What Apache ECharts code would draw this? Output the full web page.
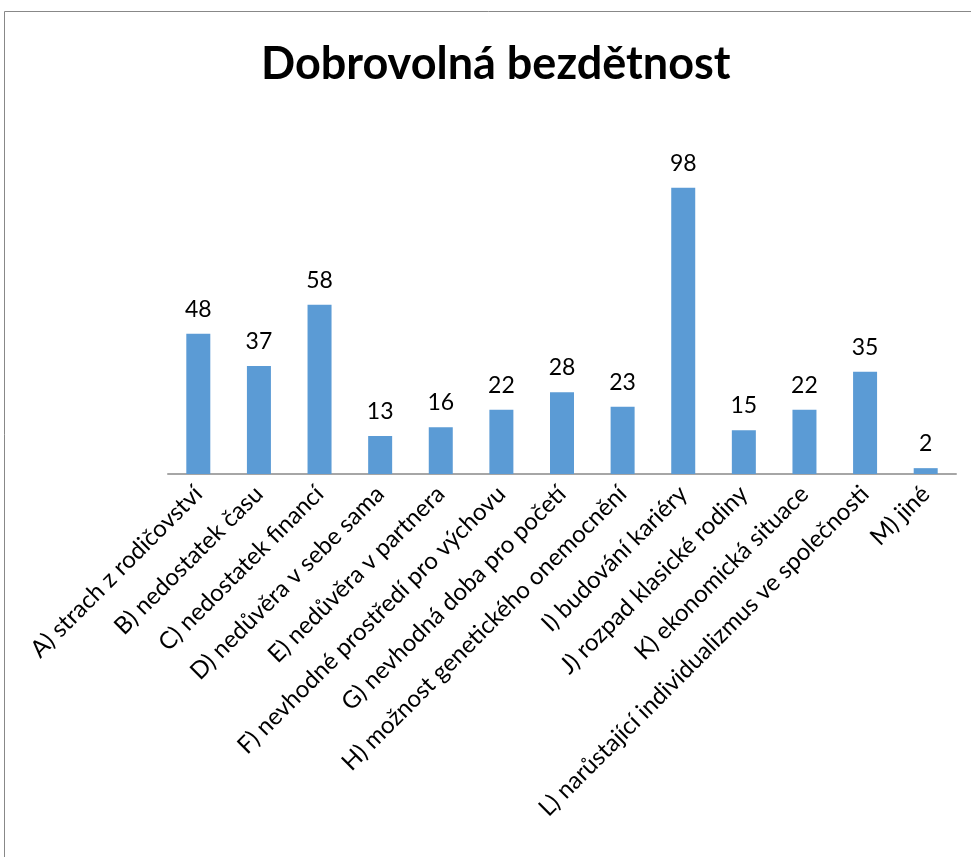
<!DOCTYPE html>
<html>
<head>
<meta charset="utf-8">
<script src="https://cdn.jsdelivr.net/npm/echarts@6/dist/echarts.min.js"></script>
<style>
  html, body { margin: 0; padding: 0; background: #fff; }
  #chart { width: 971px; height: 857px; }
</style>
</head>
<body>
<div id="chart"></div>
<script>
const titleText = 'Dobrovolná bezdětnost';
const categories = [
  'A) strach z rodičovství',
  'B) nedostatek času',
  'C) nedostatek financí',
  'D) nedůvěra v sebe sama',
  'E) nedůvěra v partnera',
  'F) nevhodné prostředí pro výchovu',
  'G) nevhodná doba pro početí',
  'H) možnost genetického onemocnění',
  'I) budování kariéry',
  'J) rozpad klasické rodiny',
  'K) ekonomická situace',
  'L) narůstající individualizmus ve společnosti',
  'M) jiné'
];
const values = [48, 37, 58, 13, 16, 22, 28, 23, 98, 15, 22, 35, 2];

const chart = echarts.init(document.getElementById('chart'), null, { renderer: 'canvas' });
const font = 'Lato, "Open Sans", sans-serif';
chart.setOption({
  animation: false,
  backgroundColor: '#ffffff',
  graphic: [{
    type: 'rect',
    shape: { x: 4.5, y: 11.5, width: 1100, height: 1000 },
    style: { fill: 'none', stroke: '#888888', lineWidth: 1 },
    silent: true
  }],
  title: {
    text: titleText,
    left: 256,
    top: 37,
    textStyle: { fontFamily: font, fontSize: 45, fontWeight: 'bold', color: '#000' }
  },
  grid: { left: 168, right: 15, top: 182, bottom: 383, containLabel: false },
  xAxis: {
    type: 'category',
    data: categories,
    axisLine: { show: true, lineStyle: { color: '#a6a6a6', width: 2 } },
    axisTick: { show: false },
    axisLabel: {
      interval: 0,
      rotate: 45,
      margin: 16,
      fontFamily: font,
      fontSize: 24,
      color: '#000'
    }
  },
  yAxis: {
    type: 'value',
    min: 0,
    max: 100,
    show: false,
    splitLine: { show: false }
  },
  series: [{
    type: 'bar',
    data: values,
    barWidth: 24,
    itemStyle: { color: '#5b9bd5' },
    label: {
      show: true,
      position: 'top',
      distance: 13,
      fontFamily: font,
      fontSize: 23,
      color: '#000'
    }
  }]
});
</script>
</body>
</html>
